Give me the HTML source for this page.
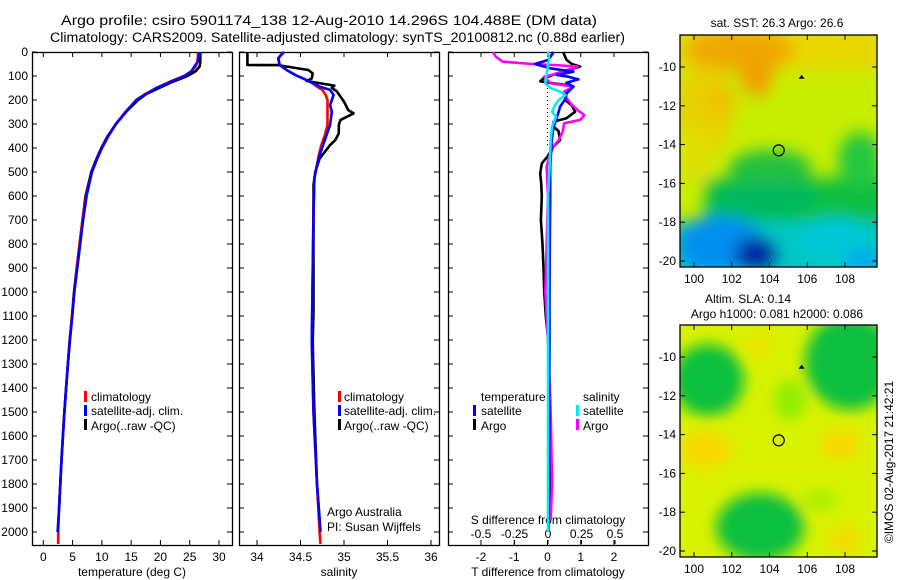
<!DOCTYPE html>
<html><head><meta charset="utf-8"><style>
html,body{margin:0;padding:0;background:#fff}
svg{display:block;font-family:"Liberation Sans",sans-serif}
text{fill:#000}
</style></head><body>
<svg id="fig" width="900" height="580" viewBox="0 0 900 580" xmlns="http://www.w3.org/2000/svg">
<defs>
<filter id="blur1" x="-20%" y="-20%" width="140%" height="140%"><feGaussianBlur stdDeviation="8"/></filter>
<filter id="blur2" x="-20%" y="-20%" width="140%" height="140%"><feGaussianBlur stdDeviation="7"/></filter>
<clipPath id="clipM1"><rect x="680" y="35" width="197" height="232"/></clipPath>
<clipPath id="clipM2"><rect x="680" y="325" width="197" height="232"/></clipPath>
</defs>
<text x="61" y="25" font-size="13.5" textLength="536" lengthAdjust="spacingAndGlyphs">Argo profile: csiro 5901174_138 12-Aug-2010 14.296S 104.488E (DM data)</text>
<text x="50" y="42" font-size="13.5" textLength="575" lengthAdjust="spacingAndGlyphs">Climatology: CARS2009. Satellite-adjusted climatology: synTS_20100812.nc (0.88d earlier)</text>

<!-- map 1 -->
<g clip-path="url(#clipM1)">
  <rect x="680" y="35" width="197" height="232" fill="#c8ee00"/>
  <g filter="url(#blur1)">
    <rect x="670" y="25" width="220" height="45" fill="#e8d800"/>
    <ellipse cx="740" cy="50" rx="55" ry="22" fill="#f0a800"/>
    <ellipse cx="757" cy="75" rx="16" ry="22" fill="#f0a000"/>
    <ellipse cx="705" cy="110" rx="28" ry="45" fill="#e8d000"/>
    <ellipse cx="722" cy="100" rx="14" ry="15" fill="#f0c000"/>
    <ellipse cx="695" cy="155" rx="18" ry="25" fill="#e0e000"/>
    <rect x="705" y="178" width="190" height="45" fill="#10c040"/>
    <ellipse cx="770" cy="168" rx="42" ry="18" fill="#20c040"/>
    <ellipse cx="860" cy="160" rx="22" ry="28" fill="#20c840"/>
    <ellipse cx="765" cy="198" rx="55" ry="15" fill="#00b860"/>
    <rect x="670" y="222" width="230" height="60" fill="#00c8c8"/>
    <ellipse cx="720" cy="245" rx="45" ry="30" fill="#0090f0"/>
    <ellipse cx="757" cy="255" rx="22" ry="18" fill="#0020a0"/>
    <ellipse cx="835" cy="235" rx="35" ry="18" fill="#00c8d8"/>
    <ellipse cx="865" cy="262" rx="20" ry="12" fill="#00a8f0"/>
  </g>
</g>
<!-- map 2 -->
<g clip-path="url(#clipM2)">
  <rect x="680" y="325" width="197" height="232" fill="#d8f200"/>
  <g filter="url(#blur2)">
    <ellipse cx="708" cy="380" rx="36" ry="36" fill="#10c040"/>
    <ellipse cx="850" cy="362" rx="45" ry="48" fill="#10c040"/>
    <ellipse cx="760" cy="527" rx="44" ry="34" fill="#10c040"/>
    <ellipse cx="790" cy="400" rx="16" ry="20" fill="#90ee00"/>
    <ellipse cx="705" cy="450" rx="28" ry="18" fill="#f8d800"/>
    <ellipse cx="840" cy="445" rx="20" ry="15" fill="#f8d800"/>
    <ellipse cx="845" cy="540" rx="15" ry="12" fill="#f8d800"/>
    <ellipse cx="760" cy="345" rx="10" ry="12" fill="#f0e000"/>
    <ellipse cx="820" cy="500" rx="18" ry="10" fill="#a8f000"/>
  </g>
</g>

<text x="777" y="27" font-size="12" text-anchor="middle">sat. SST: 26.3 Argo: 26.6</text>
<text x="748" y="303" font-size="12" text-anchor="middle">Altim. SLA: 0.14</text>
<text x="777" y="318" font-size="12" text-anchor="middle">Argo h1000: 0.081 h2000: 0.086</text>
<text transform="translate(893,462) rotate(-90)" font-size="12" text-anchor="middle">©IMOS 02-Aug-2017 21:42:21</text>

<g id="plots"></g>

<!-- legends -->
<g font-size="12">
  <rect x="84" y="391" width="3" height="11" fill="#f00"/><text x="91" y="401">climatology</text>
  <rect x="84" y="405" width="3" height="11" fill="#00f"/><text x="91" y="415">satellite-adj. clim.</text>
  <rect x="84" y="419" width="3" height="11" fill="#000"/><text x="91" y="430">Argo(..raw -QC)</text>
</g>
<g font-size="12">
  <rect x="338" y="391" width="3" height="11" fill="#f00"/><text x="344" y="401">climatology</text>
  <rect x="338" y="405" width="3" height="11" fill="#00f"/><text x="344" y="415">satellite-adj. clim.</text>
  <rect x="338" y="419" width="3" height="11" fill="#000"/><text x="344" y="430">Argo(..raw -QC)</text>
  <text x="327" y="516">Argo Australia</text>
  <text x="327" y="531">PI: Susan Wijffels</text>
</g>
<g font-size="12">
  <text x="481" y="401">temperature</text>
  <rect x="473" y="405" width="3" height="11" fill="#00f"/><text x="481" y="415">satellite</text>
  <rect x="473" y="419" width="3" height="11" fill="#000"/><text x="481" y="430">Argo</text>
  <text x="583" y="401">salinity</text>
  <rect x="576" y="405" width="3" height="11" fill="#0ee"/><text x="583" y="415">satellite</text>
  <rect x="576" y="419" width="3" height="11" fill="#f0f"/><text x="583" y="430">Argo</text>
</g>
</svg>
<script>
// ---------- data ----------
const depthTicks = [0,100,200,300,400,500,600,700,800,900,1000,1100,1200,1300,1400,1500,1600,1700,1800,1900,2000];
const tempTicks = [0,5,10,15,20,25,30];
const salTicks = [34,34.5,35,35.5,36];
const salTickLabels = ["34","34.5","35","35.5","36"];
const tdTicks = [-2,-1,0,1,2];
const sdTicks = [-0.5,-0.25,0,0.25,0.5];
const sdTickLabels = ["-0.5","-0.25","0","0.25","0.5"];

const tempDepth = [0,20,40,60,80,100,125,150,175,200,250,300,350,400,450,500,600,700,800,900,1000,1100,1200,1300,1400,1500,1600,1700,1800,1900,2000,2050];
const tempClim = [26.4,26.4,26.3,26.0,25.3,24.0,21.5,19.3,17.4,15.9,14.0,12.4,11.1,10.0,9.1,8.3,7.3,6.7,6.2,5.7,5.3,4.9,4.55,4.2,3.9,3.6,3.35,3.1,2.9,2.7,2.55,2.55];
const tempSatDepth = [0,20,40,60,80,100,125,150,175,200,250,300,350,400,450,500,600,700,800,900,1000,1100,1200,1300,1400,1500,1600,1700,1800,1900,2000];
const tempSat = [26.6,26.6,26.4,25.8,25.3,24.2,21.8,19.3,17.6,15.9,14.1,12.4,11.1,10.0,9.1,8.3,7.4,6.8,6.3,5.8,5.3,4.95,4.55,4.2,3.9,3.6,3.35,3.1,2.9,2.7,2.45];
const tempArgoDepth = [0,20,40,60,80,100,125,150,175,200,250,300,350,400,450,500,600,700,800,900,1000,1100,1200,1300,1400,1500,1600,1700,1800,1900];
const tempArgo = [26.8,26.8,26.8,26.7,26.0,24.6,22.0,19.8,17.6,16.2,14.1,12.4,11.0,9.9,9.0,8.2,7.2,6.7,6.2,5.7,5.25,4.9,4.5,4.2,3.9,3.6,3.35,3.1,2.9,2.7];

const salArgoDepth = [0,54,54.5,75,89,110,121,140,149,165,207,242,256,283,304,339,367,388,444,499,554,804,1082,1207,1500,1800,1950];
const salArgo = [33.89,33.89,34.24,34.59,34.64,34.63,34.57,34.89,34.86,34.92,35.0,35.05,35.11,34.96,34.94,34.94,34.90,34.84,34.72,34.67,34.65,34.65,34.65,34.64,34.66,34.69,34.72];
const salSatDepth = [0,26,54,75,96,117,131,144,158,179,200,221,249,304,346,388,429,471,526,665,1207,1500,1800,2000];
const salSat = [34.31,34.245,34.26,34.34,34.44,34.57,34.65,34.72,34.84,34.88,34.86,34.84,34.86,34.84,34.80,34.76,34.72,34.69,34.66,34.65,34.63,34.65,34.69,34.73];
const salClimDepth = [0,26,54,75,96,117,131,144,158,179,200,221,249,304,346,388,429,471,526,665,1207,1500,1800,2000,2050];
const salClim = [34.30,34.245,34.26,34.34,34.44,34.57,34.64,34.69,34.75,34.79,34.81,34.81,34.81,34.81,34.78,34.74,34.71,34.69,34.66,34.65,34.63,34.65,34.69,34.72,34.73];

const tdArgoDepth = [0,33,50,61,89,110,122,131,138,144,172,200,222,249,276,290,311,329,367,394,436,464,506,547,603,700,800,900,1000,1100,1200,1400,1600,1800,1950];
const tdArgo = [0.47,0.57,0.73,0.98,0.28,-0.12,-0.22,0.18,0.57,0.78,0.57,0.53,0.73,0.83,0.57,0.18,0.18,0.33,0.38,0.18,0.0,-0.17,-0.22,-0.19,-0.17,-0.2,-0.15,-0.12,-0.1,-0.05,0.02,0.05,0.06,0.08,0.05];
const tdSatDepth = [0,33,50,68,82,96,103,114,128,144,172,197,228,276,311,367,478,603,800,1000,1200,1400,1600,1800,2000];
const tdSat = [0.18,0.03,-0.38,0.08,0.78,0.28,0.63,0.93,0.57,0.78,0.57,0.53,0.38,0.28,0.18,0.13,0.08,0.08,0.07,0.06,0.06,0.05,0.05,0.04,0.03];
const sdArgoDepth = [0,19,40,50,54,61,89,103,131,144,165,193,221,242,263,283,297,332,367,394,436,478,603,800,1000,1200,1500,1800,1950];
const sdArgo = [-0.41,-0.39,-0.34,-0.12,0.04,0.22,0.07,-0.03,0.02,0.19,0.12,0.14,0.18,0.22,0.27,0.24,0.12,0.11,0.08,0.04,0.01,-0.01,0.0,-0.01,-0.02,0.0,0.02,0.03,0.02];
const sdSatDepth = [0,33,50,89,131,151,165,179,200,214,249,269,311,367,506,603,800,1200,1600,2000];
const sdSat = [0.0,0.01,0.0,-0.01,-0.02,0.02,0.09,0.13,0.08,0.06,0.03,0.06,0.03,0.02,0.01,0.0,0.0,0.0,0.0,0.0];

const lonTicks = [100,102,104,106,108];
const latTicks = [-10,-12,-14,-16,-18,-20];
const argoLon = [104.488];
const argoLat = [-14.296];

// ---------- helpers ----------
const NS = "http://www.w3.org/2000/svg";
const root = document.getElementById('plots');
function mk(tag, attrs, parent){
  const e = document.createElementNS(NS, tag);
  for (const k in attrs) e.setAttribute(k, attrs[k]);
  (parent||root).appendChild(e);
  return e;
}
const TOP = 52, BOT = 545;
const yD = d => TOP + d * 0.24;
function lin(d0, d1, r0, r1){ return v => r0 + (v - d0) * (r1 - r0) / (d1 - d0); }

const xT = lin(0, 30, 43.3, 219);
const xS = lin(34, 36, 257, 431);
const xTd = lin(-2, 2, 481, 614);
const xSd = lin(-0.5, 0.5, 481, 615);

function series(xs, vals, depths, color, name, w){
  let d = '';
  for (let i = 0; i < vals.length; i++) d += (i ? 'L' : 'M') + xs(vals[i]).toFixed(1) + ',' + yD(depths[i]).toFixed(1);
  const p = mk('path', {d: d, fill: 'none', stroke: color, 'stroke-width': w || 2.6, 'stroke-linejoin': 'round'});
  
  
  return p;
}
function frame(x0, x1, name){
  const r = mk('rect', {x: x0 + 0.5, y: TOP + 0.5, width: x1 - x0, height: BOT - TOP, fill: 'none', stroke: '#000', 'stroke-width': 1.3});
  
  
  for (const d of depthTicks){
    const y = yD(d);
    mk('line', {x1: x0, x2: x0 + 5, y1: y, y2: y, stroke: '#000'});
    mk('line', {x1: x1 - 5, x2: x1, y1: y, y2: y, stroke: '#000'});
  }
}
function xAxis(ticks, labels, xs, x0, x1, title, name){
  const g = mk('g', {'font-size': 12});
  
  
  ticks.forEach((t, i) => {
    const x = xs(t);
    mk('line', {x1: x, x2: x, y1: BOT, y2: BOT - 5, stroke: '#000'}, g);
    mk('line', {x1: x, x2: x, y1: TOP, y2: TOP + 5, stroke: '#000'}, g);
    const tx = mk('text', {x: x, y: 561, 'text-anchor': 'middle'}, g);
    tx.textContent = labels[i];
  });
  const tt = mk('text', {x: (x0 + x1) / 2, y: 576, 'text-anchor': 'middle'}, g);
  tt.textContent = title;
}

// depth labels
const dl = mk('g', {'font-size': 12, 'text-anchor': 'end'});


for (const d of depthTicks){
  const t = mk('text', {x: 28, y: yD(d) + 4}, dl);
  t.textContent = d;
}

// panel 1 temperature
frame(32, 232, 'temperature-panel');
xAxis(tempTicks, tempTicks.map(String), xT, 32, 232, 'temperature (deg C)', 'temperature-x-axis');
series(xT, tempArgo, tempArgoDepth, '#000', 'temp-argo-line');
series(xT, tempClim, tempDepth, '#f00', 'temp-climatology-line');
series(xT, tempSat, tempSatDepth, '#00f', 'temp-satellite-line');

// panel 2 salinity
frame(239, 439, 'salinity-panel');
xAxis(salTicks, salTickLabels, xS, 239, 439, 'salinity', 'salinity-x-axis');
series(xS, salArgo, salArgoDepth, '#000', 'sal-argo-line');
series(xS, salClim, salClimDepth, '#f00', 'sal-climatology-line');
series(xS, salSat, salSatDepth, '#00f', 'sal-satellite-line');

// panel 3 differences
frame(448, 648, 'difference-panel');
xAxis(tdTicks, tdTicks.map(String), xTd, 448, 648, 'T difference from climatology', 'tdiff-x-axis');
const sg = mk('g', {'font-size': 12});


sdTicks.forEach((t, i) => {
  const x = xSd(t);
  mk('line', {x1: x, x2: x, y1: 540, y2: 544, stroke: '#000'}, sg);
  const tx = mk('text', {x: x, y: 538, 'text-anchor': 'middle'}, sg);
  tx.textContent = sdTickLabels[i];
});
const st = mk('text', {x: 548, y: 524, 'text-anchor': 'middle'}, sg);
st.textContent = 'S difference from climatology';
mk('line', {x1: xTd(0), x2: xTd(0), y1: yD(0), y2: yD(400), stroke: '#000', 'stroke-dasharray': '1,3'});
series(xTd, tdArgo, tdArgoDepth, '#000', 'tdiff-argo-line');
series(xSd, sdArgo, sdArgoDepth, '#f0f', 'sdiff-argo-line');
series(xTd, tdSat, tdSatDepth, '#00f', 'tdiff-satellite-line');
series(xSd, sdSat, sdSatDepth, '#0ee', 'sdiff-satellite-line');

// maps
function mapFrame(y0, name){
  const x0 = 680, x1 = 877, y1 = y0 + 232;
  const xl = lin(100, 108, 694, 845);
  const yl = lin(-10, -20, y0 + 32, y0 + 226);
  const g = mk('g', {'font-size': 12});
  
  
  mk('rect', {x: x0, y: y0, width: x1 - x0, height: 232, fill: 'none', stroke: '#000', 'stroke-width': 1.3}, g);
  lonTicks.forEach(t => {
    const x = xl(t);
    mk('line', {x1: x, x2: x, y1: y0, y2: y0 + 5, stroke: '#000'}, g);
    mk('line', {x1: x, x2: x, y1: y1, y2: y1 - 5, stroke: '#000'}, g);
    const tx = mk('text', {x: x, y: y1 + 16, 'text-anchor': 'middle'}, g);
    tx.textContent = t;
  });
  latTicks.forEach(t => {
    const y = yl(t);
    mk('line', {x1: x0, x2: x0 + 5, y1: y, y2: y, stroke: '#000'}, g);
    mk('line', {x1: x1, x2: x1 - 5, y1: y, y2: y, stroke: '#000'}, g);
    const tx = mk('text', {x: 676, y: y + 4, 'text-anchor': 'end'}, g);
    tx.textContent = t;
  });
  const c = mk('circle', {cx: xl(argoLon[0]), cy: yl(argoLat[0]), r: 5.5, fill: 'none', stroke: '#000', 'stroke-width': 1.2}, g);
  
  
  const tx = xl(105.7), ty = yl(-10.5);
  mk('path', {d: `M${tx-3},${ty+2}L${tx},${ty-2}L${tx+3},${ty+2}Z`, fill: '#000'}, g);
}
mapFrame(35, 'sst-map-axes');
mapFrame(325, 'sla-map-axes');
</script>
</body></html>
